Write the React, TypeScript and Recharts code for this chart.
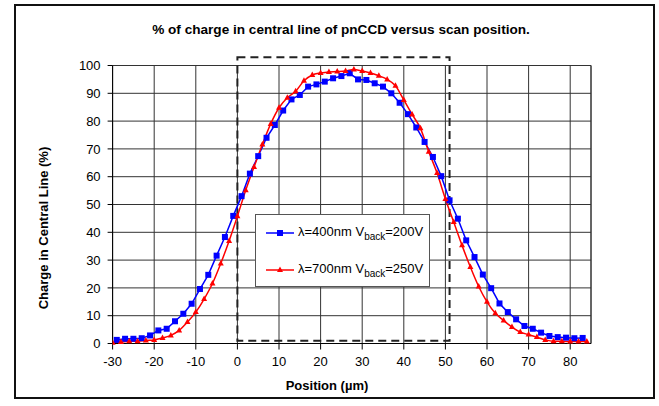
import { LineChart, Line, XAxis, YAxis, CartesianGrid, ReferenceArea, ReferenceLine, Legend } from 'recharts';

// λ=400nm, Vback=200V (blue squares)
const blueX = [
    -29, -27, -25, -23, -21, -19, -17, -15, -13, -11, -9, -7, -5, -3, -1,
    1, 3, 5, 7, 9, 11, 13, 15, 17, 19, 21, 23, 25, 27, 29, 31, 33, 35, 37, 39,
    41, 43, 45, 47, 49, 51, 53, 55, 57, 59, 61, 63, 65, 67, 69, 71, 73, 75, 77, 79, 81, 83,
];
const blueY = [
    1.3, 1.7, 1.7, 1.9, 2.9, 4.7, 5.3, 8.0, 10.7, 14.3, 19.6, 24.7, 31.6, 38.3, 45.9,
    53.0, 61.1, 67.4, 74.0, 78.6, 83.8, 87.8, 89.4, 92.4, 93.2, 94.2, 95.4, 96.2, 97.2, 95.0, 94.8, 93.6, 92.4, 90.0, 86.6,
    82.5, 77.7, 72.5, 67.1, 60.2, 51.5, 44.9, 37.1, 31.1, 24.8, 19.9, 14.4, 11.3, 8.7, 6.3, 5.3, 3.9, 2.7, 2.3, 2.1, 1.9, 2.0,
];

// λ=700nm, Vback=250V (red triangles)
const redX = [
    -30, -28, -26, -24, -22, -20, -18, -16, -14, -12, -10, -8, -6, -4, -2,
    0, 2, 4, 6, 8, 10, 12, 14, 16, 18, 20, 22, 24, 26, 28, 30, 32, 34, 36, 38,
    40, 42, 44, 46, 48, 50, 52, 54, 56, 58, 60, 62, 64, 66, 68, 70, 72, 74, 76, 78, 80, 82, 84,
];
const redY = [
    0.3, 0.5, 0.8, 0.8, 1.1, 1.3, 2.0, 2.9, 4.7, 7.7, 11.3, 16.0, 21.6, 28.8, 36.9,
    45.8, 55.1, 63.5, 71.6, 79.0, 84.8, 88.4, 90.7, 94.5, 96.6, 97.3, 97.7, 97.8, 98.0, 98.6, 98.0, 97.3, 96.3, 95.0, 92.7,
    87.6, 82.4, 77.4, 69.0, 61.3, 52.0, 43.7, 35.3, 27.5, 20.5, 15.0, 10.9, 8.3, 5.9, 4.1, 3.2, 2.3, 1.3, 0.8, 0.8, 0.7, 0.7, 0.7,
];

const xTicks = [-30, -20, -10, 0, 10, 20, 30, 40, 50, 60, 70, 80];
const yTicks = [0, 10, 20, 30, 40, 50, 60, 70, 80, 90, 100];

// dashed box marking the pixel (position, charge)
const boxX = [0, 51];
const boxY = [1, 103];

const blueData = blueX.map((x, i) => ({ x, v: blueY[i] }));
const redData = redX.map((x, i) => ({ x, v: redY[i] }));

const BLUE = '#0000ff';
const RED = '#ff0000';
const FONT = '"Liberation Sans", Arial, sans-serif';

const Square = (props: any) => {
    const { cx, cy } = props;
    if (cx == null || cy == null) return null;
    return <rect x={cx - 3} y={cy - 3} width={6} height={6} fill={BLUE} />;
};

const Triangle = (props: any) => {
    const { cx, cy } = props;
    if (cx == null || cy == null) return null;
    return <polygon points={`${cx},${cy - 3.5} ${cx - 3},${cy + 2} ${cx + 3},${cy + 2}`} fill={RED} />;
};

const LegendRow = ({ color, marker, wl, v }: { color: string; marker: 'sq' | 'tri'; wl: string; v: string }) => (
    <div style={{ display: 'flex', alignItems: 'center', height: 20 }}>
        <svg width={30} height={10} style={{ marginRight: 2 }}>
            <line x1={0} y1={5} x2={28} y2={5} stroke={color} strokeWidth={1.5} />
            {marker === 'sq'
                ? <rect x={11} y={2} width={6} height={6} fill={color} />
                : <polygon points="14,1.5 11,7 17,7" fill={color} />}
        </svg>
        <span style={{ fontSize: 13, color: '#000', whiteSpace: 'nowrap' }}>
            λ={wl}nm V<sub style={{ fontSize: 10, verticalAlign: -4 }}>back</sub>={v}V
        </span>
    </div>
);

const renderLegend = () => (
    <div
        style={{
            width: 175,
            height: 73,
            boxSizing: 'border-box',
            background: '#fff',
            border: '1px solid #555',
            padding: '8px 0 0 10px',
            fontFamily: FONT,
        }}
    >
        <LegendRow color={BLUE} marker="sq" wl="400" v="200" />
        <div style={{ height: 17 }} />
        <LegendRow color={RED} marker="tri" wl="700" v="250" />
    </div>
);

const App = () => {
    return (
        <div style={{ position: 'absolute', left: 0, top: 0, width: 659, height: 406, fontFamily: FONT, background: '#fff' }}>
            <div
                style={{
                    position: 'absolute',
                    left: 14,
                    top: 4,
                    width: 641,
                    height: 395,
                    boxSizing: 'border-box',
                    border: '2px solid #111',
                }}
            />
            <div
                style={{
                    position: 'absolute',
                    left: 341,
                    top: 29,
                    transform: 'translate(-50%, -50%)',
                    fontSize: 13.6,
                    fontWeight: 'bold',
                    whiteSpace: 'nowrap',
                }}
            >
                % of charge in central line of pnCCD versus scan position.
            </div>
            <div
                style={{
                    position: 'absolute',
                    left: 43,
                    top: 228,
                    transform: 'translate(-50%, -50%) rotate(-90deg)',
                    fontSize: 13,
                    fontWeight: 'bold',
                    whiteSpace: 'nowrap',
                }}
            >
                Charge in Central Line (%)
            </div>
            <div
                style={{
                    position: 'absolute',
                    left: 327,
                    top: 385,
                    transform: 'translate(-50%, -50%)',
                    fontSize: 13,
                    fontWeight: 'bold',
                    whiteSpace: 'nowrap',
                }}
            >
                Position (µm)
            </div>
            <div style={{ position: 'absolute', left: 0, top: 0 }}>
                <LineChart width={659} height={406} margin={{ top: 65.5, right: 68, bottom: 0, left: 0 }}>
                    <CartesianGrid stroke="#333" strokeWidth={1} />
                    <XAxis
                        type="number"
                        dataKey="x"
                        domain={[-30, 85]}
                        ticks={xTicks}
                        interval={0}
                        allowDataOverflow
                        height={62.5}
                        tickSize={6}
                        tickMargin={7}
                        tick={{ fill: '#000', fontSize: 13, fontFamily: FONT }}
                        axisLine={{ stroke: '#000' }}
                        tickLine={{ stroke: '#000' }}
                    />
                    <YAxis
                        type="number"
                        domain={[0, 100]}
                        ticks={yTicks}
                        interval={0}
                        width={112.6}
                        tickSize={5}
                        tickMargin={7}
                        tick={{ fill: '#000', fontSize: 13, fontFamily: FONT }}
                        axisLine={{ stroke: '#000' }}
                        tickLine={{ stroke: '#000' }}
                    />
                    <ReferenceLine x={85} stroke="#333" ifOverflow="visible" />
                    <ReferenceArea
                        x1={boxX[0]}
                        x2={boxX[1]}
                        y1={boxY[0]}
                        y2={boxY[1]}
                        ifOverflow="visible"
                        fill="none"
                        fillOpacity={0}
                        stroke="#222"
                        strokeWidth={2}
                        strokeDasharray="8 5"
                    />
                    <Line
                        data={blueData}
                        dataKey="v"
                        type="linear"
                        stroke={BLUE}
                        strokeWidth={1.5}
                        dot={<Square />}
                        isAnimationActive={false}
                    />
                    <Line
                        data={redData}
                        dataKey="v"
                        type="monotone"
                        stroke={RED}
                        strokeWidth={1.5}
                        dot={<Triangle />}
                        isAnimationActive={false}
                    />
                    <Legend
                        layout="vertical"
                        align="center"
                        verticalAlign="middle"
                        content={renderLegend}
                        wrapperStyle={{ left: 255, top: 214, width: 175, height: 73 }}
                    />
                </LineChart>
            </div>
        </div>
    );
};

export default App;
